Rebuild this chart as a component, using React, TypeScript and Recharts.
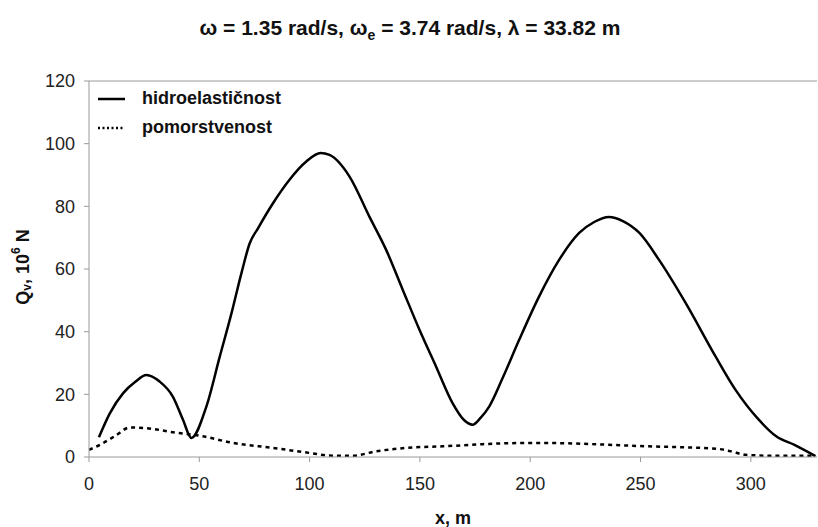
import { LineChart, Line, XAxis, YAxis, ReferenceLine } from "recharts";

const hydroX = [4.5, 9.5, 15.5, 21, 26, 32, 38, 42.6, 46.4, 53.2, 59.3, 64.6, 69.1, 72.9, 76.6, 83.4, 90.9, 98.5, 105, 109, 118.1, 127.1, 134.7, 142.2, 149.8, 157.3, 164.8, 170, 173.9, 177.5, 181.4, 187.5, 195, 204, 213.1, 222.2, 229, 235.7, 242, 249.5, 258.4, 270.5, 284, 293, 303.6, 311.5, 320, 329.3];
const hydroY = [6.3, 14, 20.4, 24, 26.2, 24.1, 19.3, 11.9, 6.1, 16.1, 32.1, 45.9, 58.7, 68.3, 73, 81, 88.5, 94.3, 97, 96.4, 89.5, 76.7, 66.1, 53.4, 40.6, 28.9, 17.2, 11.8, 10.3, 12.5, 16.1, 25.2, 37.4, 51.2, 62.9, 71.5, 75, 76.6, 75.3, 71.5, 62.9, 49.1, 32.1, 21.5, 11.9, 6.6, 3.8, 0.3];

const seaX = [0, 5, 12, 18.5, 26, 38, 50.2, 65.3, 83.4, 100, 110.5, 119.6, 130, 148.2, 160.3, 178.4, 201, 220, 235.7, 253.8, 270, 285, 291, 297.6, 310, 329.3];
const seaY = [2.3, 3.9, 6.8, 9.4, 9.2, 7.9, 6.8, 4.5, 2.9, 1.3, 0.4, 0.4, 1.8, 3.1, 3.4, 4.1, 4.5, 4.3, 3.9, 3.4, 3.1, 2.6, 1.8, 0.7, 0.4, 0.4];

const xTicks = [0, 50, 100, 150, 200, 250, 300];
const yTicks = [0, 20, 40, 60, 80, 100, 120];

const hydroData = hydroX.map((x, i) => ({ x, q: hydroY[i] }));
const seaData = seaX.map((x, i) => ({ x, q: seaY[i] }));

const font = "'Liberation Sans', Arial, sans-serif";
const axisGray = "#9a9a9a";

function LegendBox() {
  const row = { display: "flex", alignItems: "center", height: 29 } as const;
  const label = { fontWeight: 700, fontSize: 18, color: "#111", marginLeft: 17 };
  return (
    <div style={{ position: "absolute", left: 98, top: 84, fontFamily: font }}>
      <div style={row}>
        <svg width={27} height={6}>
          <line x1={0} y1={3} x2={27} y2={3} stroke="#000" strokeWidth={2.5} />
        </svg>
        <span style={label}>hidroelastičnost</span>
      </div>
      <div style={row}>
        <svg width={27} height={6}>
          <line x1={0} y1={3} x2={27} y2={3} stroke="#000" strokeWidth={2.5} strokeDasharray="2 2.5" />
        </svg>
        <span style={label}>pomorstvenost</span>
      </div>
    </div>
  );
}

function YLabel({ viewBox }: any) {
  const cx = 23;
  const cy = viewBox ? viewBox.y + viewBox.height / 2 - 2 : 270;
  return (
    <text
      x={cx}
      y={cy}
      transform={`rotate(-90, ${cx}, ${cy})`}
      textAnchor="middle"
      dominantBaseline="central"
      fontFamily={font}
      fontWeight={700}
      fontSize={18}
      fill="#111"
    >
      Q<tspan fontSize={12} dy={4}>v</tspan>
      <tspan dy={-4}>, 10</tspan>
      <tspan fontSize={12} dy={-7}>6</tspan>
      <tspan dy={7}> N</tspan>
    </text>
  );
}

export default function App() {
  return (
    <div style={{ position: "absolute", left: 0, top: 0, width: 818, height: 527, background: "#fff" }}>
      <div
        style={{
          position: "absolute",
          left: 0,
          top: 16,
          width: 820,
          textAlign: "center",
          fontFamily: font,
          fontWeight: 700,
          fontSize: 21,
          color: "#111",
        }}
      >
        ω = 1.35 rad/s, ω<sub style={{ fontSize: 14 }}>e</sub> = 3.74 rad/s, λ = 33.82 m
      </div>
      <LineChart width={818} height={527} margin={{ top: 81, right: 1, bottom: 0, left: 0 }}>
        <XAxis
          dataKey="x"
          type="number"
          domain={[0, 330]}
          ticks={xTicks}
          allowDataOverflow
          height={70}
          stroke={axisGray}
          tickSize={5}
          tickMargin={15}
          tick={{ fill: "#222", fontSize: 18, fontFamily: font }}
          label={{
            value: "x, m",
            position: "insideBottom",
            offset: 3,
            fill: "#111",
            fontSize: 18,
            fontWeight: 700,
            fontFamily: font,
          }}
        />
        <YAxis
          type="number"
          domain={[0, 120]}
          ticks={yTicks}
          width={89}
          stroke={axisGray}
          tickSize={5}
          tickMargin={9}
          tick={{ fill: "#222", fontSize: 18, fontFamily: font }}
          label={<YLabel />}
        />
        <ReferenceLine y={120} stroke={axisGray} strokeWidth={1} />
        <Line
          data={hydroData}
          dataKey="q"
          name="hidroelastičnost"
          type="monotone"
          stroke="#000"
          strokeWidth={2.5}
          dot={false}
          isAnimationActive={false}
        />
        <Line
          data={seaData}
          dataKey="q"
          name="pomorstvenost"
          type="monotone"
          stroke="#000"
          strokeWidth={2.5}
          strokeDasharray="4 4"
          dot={false}
          isAnimationActive={false}
        />
      </LineChart>
      <LegendBox />
    </div>
  );
}
